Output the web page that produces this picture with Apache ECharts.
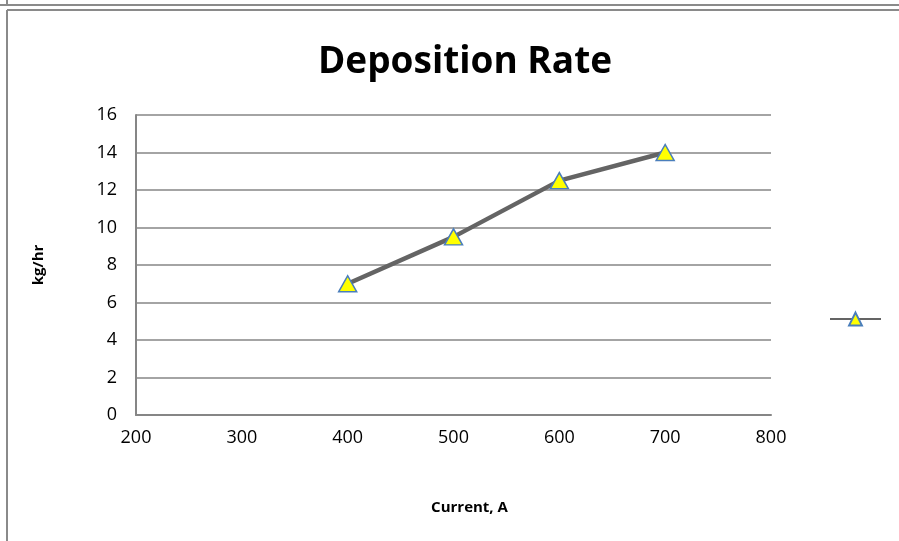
<!DOCTYPE html>
<html>
<head>
<meta charset="utf-8">
<script src="https://cdn.jsdelivr.net/npm/echarts@6/dist/echarts.min.js"></script>
<style>
html,body{margin:0;padding:0;background:#fff;}
#chart{width:899px;height:541px;}
</style>
</head>
<body>
<div id="chart"></div>
<script>
var currents = [400, 500, 600, 700];
var rates = [7, 9.5, 12.5, 14];
var xTicks = [200, 300, 400, 500, 600, 700, 800];
var yTicks = [0, 2, 4, 6, 8, 10, 12, 14, 16];

var chart = echarts.init(document.getElementById('chart'));
var font = '"Open Sans", "Noto Sans", sans-serif';
chart.setOption({
  animation: false,
  backgroundColor: '#fff',
  title: {
    text: 'Deposition Rate',
    left: 460, top: 39, textAlign: 'center',
    textStyle: {fontFamily: font, fontSize: 37, fontWeight: 'bold', color: '#000'}
  },
  legend: {
    left: 829, top: 311, padding: 0,
    itemWidth: 51, itemHeight: 16, itemGap: 0,
    data: [' '],
    formatter: function(){return '';},
    textStyle: {fontSize: 1}
  },
  graphic: [
    {type: 'line', shape: {x1: 0, y1: 5, x2: 899, y2: 5}, style: {stroke: '#8a8a8a', lineWidth: 2}},
    {type: 'line', shape: {x1: 7, y1: 0, x2: 7, y2: 5}, style: {stroke: '#8a8a8a', lineWidth: 2}},
    {type: 'line', shape: {x1: 7, y1: 10, x2: 899, y2: 10}, style: {stroke: '#8a8a8a', lineWidth: 2}},
    {type: 'line', shape: {x1: 7, y1: 10, x2: 7, y2: 541}, style: {stroke: '#8a8a8a', lineWidth: 2}}
  ],
  grid: {left: 136, right: 128, top: 115, bottom: 126, containLabel: false},
  xAxis: {
    type: 'value', min: xTicks[0], max: xTicks[xTicks.length-1], interval: 100,
    name: 'Current, A', nameLocation: 'middle', nameGap: 85,
    nameTextStyle: {fontFamily: font, fontSize: 15, fontWeight: 'bold', color: '#000', padding: [0, 0, 0, 32]},
    axisLine: {show: true, lineStyle: {color: '#868686', width: 2}},
    axisTick: {show: false},
    splitLine: {show: false},
    axisLabel: {fontFamily: font, fontSize: 18, color: '#000', margin: 14}
  },
  yAxis: {
    type: 'value', min: yTicks[0], max: yTicks[yTicks.length-1], interval: 2,
    name: 'kg/hr', nameLocation: 'middle', nameGap: 90, nameRotate: 90,
    nameTextStyle: {fontFamily: font, fontSize: 15, fontWeight: 'bold', color: '#000'},
    axisLine: {show: true, lineStyle: {color: '#868686', width: 2}},
    axisTick: {show: false},
    splitLine: {show: true, lineStyle: {color: '#868686', width: 1.5}},
    axisLabel: {fontFamily: font, fontSize: 18, color: '#000', margin: 19}
  },
  series: [{
    name: ' ',
    type: 'line',
    data: currents.map(function(c, i){return [c, rates[i]];}),
    lineStyle: {color: '#646464', width: 4.5},
    itemStyle: {color: '#ffff00', borderColor: '#4a7ebb', borderWidth: 1.5},
    symbol: 'triangle', symbolSize: [18, 16],
    showSymbol: true
  }]
});
</script>
</body>
</html>
